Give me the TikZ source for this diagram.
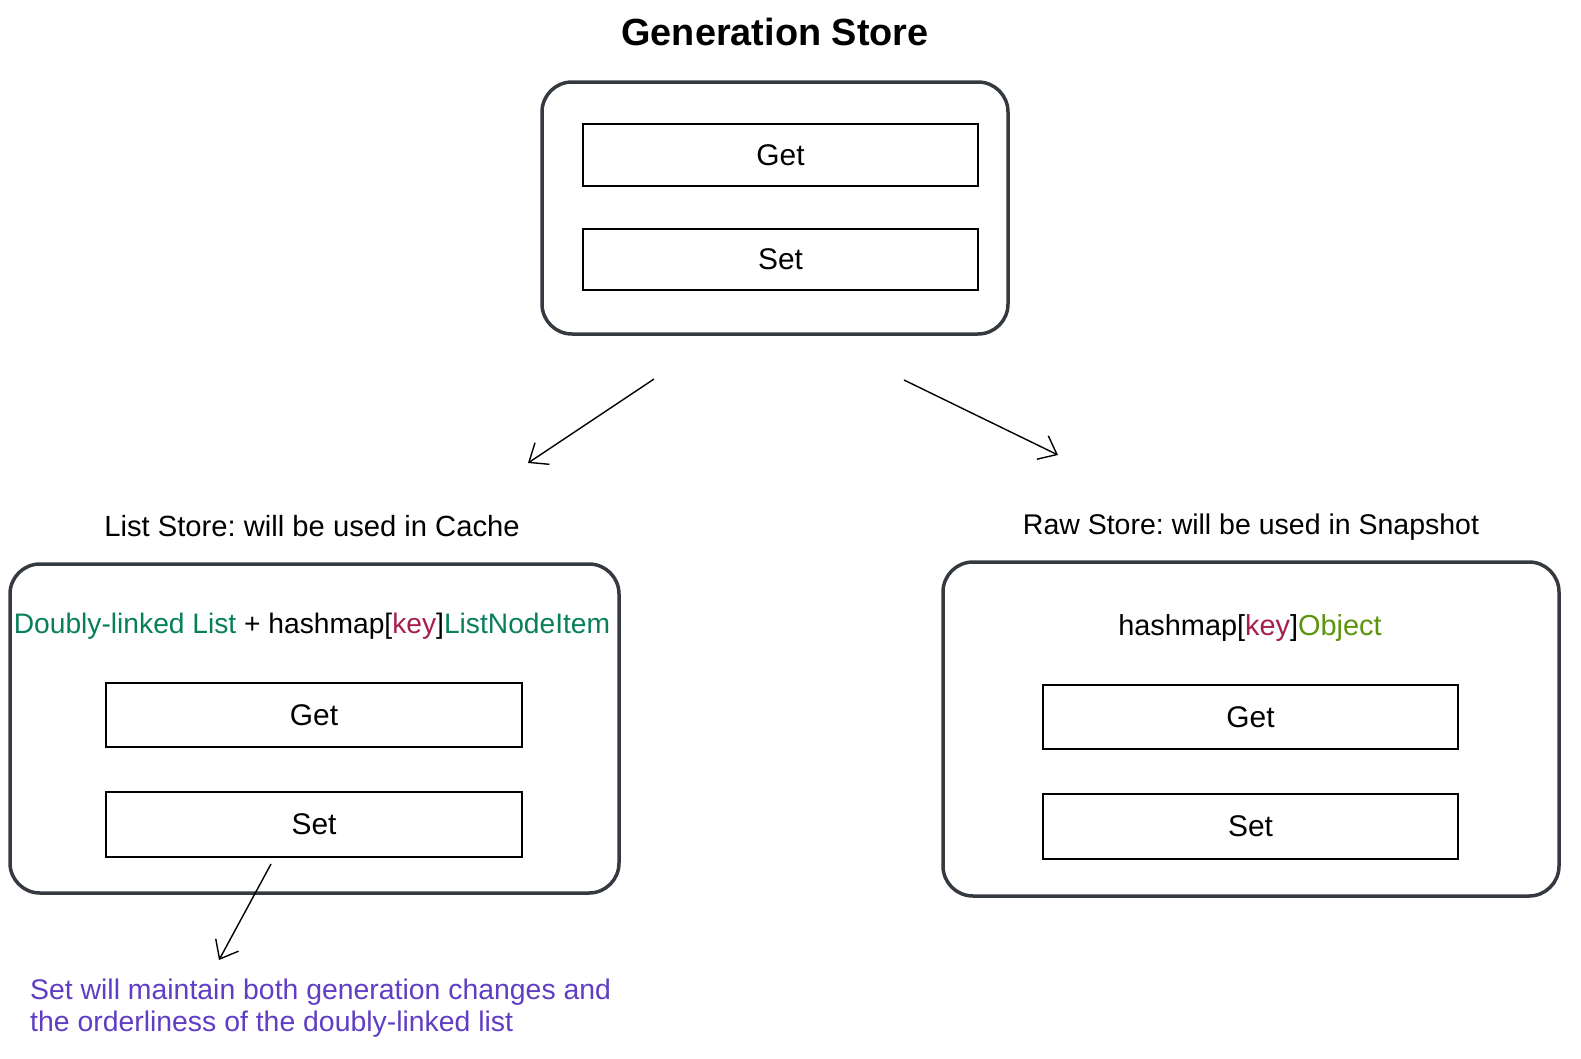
\documentclass[tikz,border=0pt]{standalone}
\usepackage{fontspec}
\setmainfont{Liberation Sans}
\usetikzlibrary{arrows.meta}
\definecolor{boxgray}{HTML}{343A40}
\definecolor{tealgreen}{HTML}{087F5B}
\definecolor{keyred}{HTML}{A61E4D}
\definecolor{objgreen}{HTML}{5C940D}
\definecolor{notepurple}{HTML}{5F3DC4}
\tikzset{
  outerbox/.style={draw=boxgray, line width=3.5bp, rounded corners=30bp},
  opbox/.style={draw=black, line width=1.4bp, minimum height=62bp, inner sep=0pt, font=\fontsize{30}{34}\selectfont},
  heading/.style={font=\fontsize{29}{34}\selectfont, inner sep=0pt},
  arr/.style={-{Straight Barb[length=16bp,width=26bp]}, line width=1.4bp},
}
\begin{document}
\frenchspacing
\begin{tikzpicture}[x=1bp,y=-1bp]
\useasboundingbox (0,0) rectangle (1581,1058);
% title
\node[font=\fontsize{38}{42}\selectfont\bfseries, inner sep=0pt] (title) at (775,32) {Generation Store};
% top box
\draw[outerbox] (542,82) rectangle (1008,334);
\node[opbox, minimum width=395bp] (tget) at (780.5,155) {Get};
\node[opbox, minimum width=395bp, minimum height=61bp] (tset) at (780.5,259.5) {Set};
% arrows from top
\coordinate (la1) at (654,379);
\coordinate (la2) at (528,463);
\coordinate (ra1) at (904,380);
\coordinate (ra2) at (1058,455);
\draw[arr] (la1) -- (la2);
\draw[arr] (ra1) -- (ra2);
% left section
\node[heading, font=\fontsize{29.3}{34}\selectfont] (lhead) at (312,526) {List Store: will be used in Cache};
\draw[outerbox] (10,564) rectangle (619,893);
\node[heading, font=\fontsize{28.3}{34}\selectfont] (ldesc) at (312,626) {\textcolor{tealgreen}{Doubly-linked List} + hashmap[\textcolor{keyred}{key}]\textcolor{tealgreen}{ListNodeItem}};
\node[opbox, minimum width=416bp, minimum height=64bp] (lget) at (314,715) {Get};
\node[opbox, minimum width=416bp, minimum height=65bp] (lset) at (314,824.5) {Set};
\coordinate (na1) at (271,864);
\coordinate (na2) at (219,960);
\draw[arr] (na1) -- (na2);
\node[font=\fontsize{28.5}{32}\selectfont, text=notepurple, align=left, anchor=north west, inner sep=0pt] (note) at (30,979) {Set will maintain both generation changes and\\the orderliness of the doubly-linked list};
% right section
\node[heading, font=\fontsize{28.6}{34}\selectfont] (rhead) at (1251,527) {Raw Store: will be used in Snapshot};
\draw[outerbox] (943,562) rectangle (1559,896);
\node[heading] (rdesc) at (1250,628) {hashmap[\textcolor{keyred}{key}]\textcolor{objgreen}{Object}};
\node[opbox, minimum width=415bp, minimum height=64bp] (rget) at (1250.5,717) {Get};
\node[opbox, minimum width=415bp, minimum height=65bp] (rset) at (1250.5,826.5) {Set};
\end{tikzpicture}
\end{document}
